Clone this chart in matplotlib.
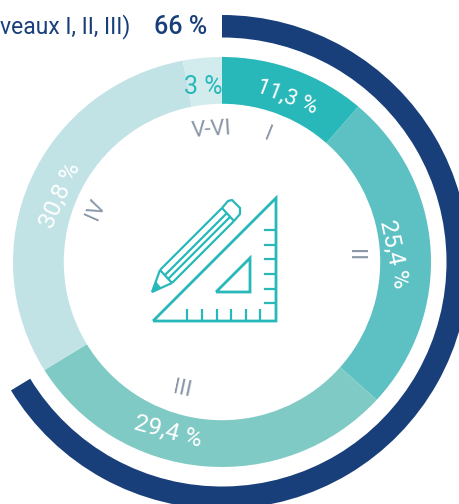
import matplotlib
matplotlib.use('Agg')
import matplotlib.pyplot as plt
from matplotlib.patches import Ellipse

# Step 1: data
levels = ['I', 'II', 'III', 'IV', 'V-VI']
shares = [11.3, 25.4, 29.4, 30.8, 3]
share_labels = ['11,3 %', '25,4 %', '29,4 %', '30,8 %', '3 %']
colors = ['#28B8BA', '#5DC1C3', '#80CAC5', '#C2E3E6', '#D2EBED']
group_share = [66.3, 33.7]
group_label = '66 %'
group_text = 'veaux I, II, III)'

NAVY = '#193F7A'
TEAL = '#28B8BA'
GREY = '#8A97A8'
plt.rcParams['font.family'] = ['Roboto', 'DejaVu Sans']

W, H = 460, 504
CX, CY = 222, 262


def py(y):
    # picture y (from top) to axes y (from bottom)
    return H - y


fig = plt.figure(figsize=(W / 100, H / 100), dpi=100)

# Step 2: inner ring, its axes is scaled so the ring is slightly wider than tall
RX, RY = 209, 205
ring_ax = fig.add_axes([0, 0, 1, 1])
ring_ax.pie(shares, colors=colors, startangle=90, counterclock=False, radius=1)
ring_ax.add_patch(Ellipse((0, 0), 2 * 157.5 / RX, 2 * 157.5 / RY, color='white', zorder=5))
ring_ax.set_aspect('auto')
ring_ax.set_xlim(-CX / RX, (W - CX) / RX)
ring_ax.set_ylim(-(H - CY) / RY, CY / RY)
ring_ax.axis('off')

# Step 3: outer arc and texts in pixel coordinates
ax = fig.add_axes([0, 0, 1, 1], zorder=2)
ax.patch.set_alpha(0)
ax.pie(group_share, colors=[NAVY, 'none'], startangle=90, counterclock=False,
       center=(CX, py(CY)), radius=247, wedgeprops={'width': 22.5})
ax.set_aspect('auto')
ax.set_xlim(0, W)
ax.set_ylim(0, H)
ax.axis('off')

# share labels
share_pos = [(287, 97, -21, 16), (394, 254, -78, 17.5), (168, 432, -15, 17.5),
             (60, 195, 66, 17.5), (203, 87, 0, 18)]
share_cols = ['white', 'white', 'white', 'white', TEAL]
for lab, (x, y, rot, size), c in zip(share_labels, share_pos, share_cols):
    ax.text(x, py(y), lab, color=c, fontsize=size, rotation=rot, rotation_mode='anchor',
            ha='center', va='center')

# level labels
level_pos = [(268, 135, -22), (355, 255, -90), (182, 390, -12), (96, 210, 66), (211, 130, 4)]
for lab, (x, y, rot) in zip(levels, level_pos):
    ax.text(x, py(y), lab, color=GREY, fontsize=16, rotation=rot,
            rotation_mode='anchor', ha='center', va='center')

# header
ax.text(130, py(27), group_text, color=NAVY, fontsize=16.5, ha='right', va='center')
ax.text(181, py(27), group_label, color=NAVY, fontsize=18, fontweight='medium', ha='center', va='center')


# Step 4: icon
def stroke(xs, ys, lw=1.6):
    ax.plot(xs, [py(v) for v in ys], color=TEAL, lw=lw, solid_joinstyle='miter', solid_capstyle='butt')


stroke([153, 276, 276, 153], [321, 198, 321, 321], 2)
stroke([216, 250, 250, 216], [292, 258, 292, 292], 2)
for y in [230, 245, 259, 274, 289, 303]:
    stroke([264, 276], [y, y])
for x in [187, 202, 217, 231, 246, 260]:
    stroke([x, x], [309, 321])
# pencil
stroke([160, 222], [270, 208])
stroke([172, 234], [283, 221])
stroke([165, 227], [275, 213])
stroke([168, 230], [279, 217])
stroke([222, 234], [208, 221])
stroke([222, 228, 232, 240, 240, 234], [208, 201, 200, 208, 214, 221])
stroke([160, 152, 172], [270, 292, 283])
stroke([160, 172], [270, 283])
ax.fill([152, 156, 161], [py(292), py(282), py(288)], color=TEAL, lw=0.5)

fig.savefig('out.png', dpi=100)
